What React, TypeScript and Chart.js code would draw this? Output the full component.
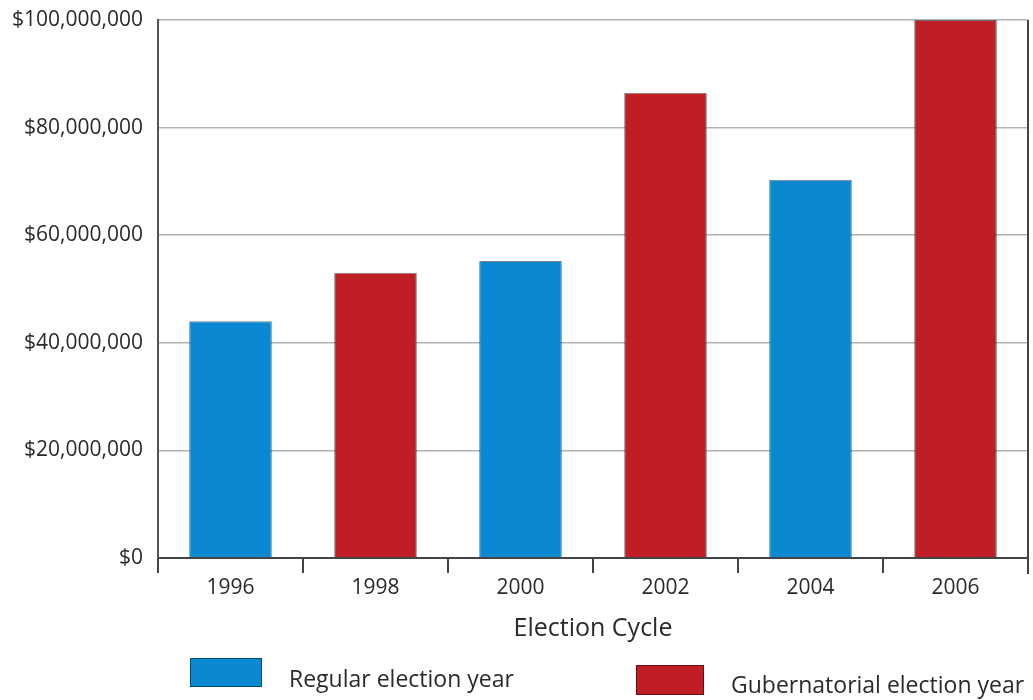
import React, { useEffect, useRef } from "react";
import { Chart, registerables } from "chart.js";

Chart.register(...registerables);

const categories = ["1996", "1998", "2000", "2002", "2004", "2006"];
const regularValues = [44000000, null, 55200000, null, 70300000, null];
const gubernatorialValues = [null, 53000000, null, 86500000, null, 100000000];
const yMin = 0;
const yMax = 100000000;
const yStep = 20000000;
const xTitle = "Election Cycle";
const regularLabel = "Regular election year";
const gubernatorialLabel = "Gubernatorial election year";

const BLUE = "#0a89d2";
const RED = "#bf1e25";
const FONT = "'Open Sans', 'DejaVu Sans', sans-serif";
const TEXT = "#2a2a2a";

const legendPlugin = {
  id: "customLegend",
  afterDraw(chart: any) {
    const ctx = chart.ctx;
    const slots = [
      { bx: 190, by: 658, bw: 72, bh: 29, tx: 289, ty: 680 },
      { bx: 636, by: 665, bw: 68, bh: 30, tx: 731, ty: 686 },
    ];
    ctx.save();
    const a = chart.chartArea;
    ctx.strokeStyle = "#444";
    ctx.lineWidth = 2;
    ctx.beginPath();
    ctx.moveTo(a.right, a.top);
    ctx.lineTo(a.right, a.bottom + 16);
    ctx.stroke();

    chart.data.datasets.forEach((ds: any, i: number) => {
      const s = slots[i];
      if (!s) return;
      ctx.fillStyle = ds.backgroundColor;
      ctx.fillRect(s.bx, s.by, s.bw, s.bh);
      ctx.strokeStyle = "rgba(0,0,0,0.45)";
      ctx.lineWidth = 1;
      ctx.strokeRect(s.bx + 0.5, s.by + 0.5, s.bw - 1, s.bh - 1);
      ctx.fillStyle = TEXT;
      ctx.font = `23px ${FONT}`;
      ctx.textAlign = "left";
      ctx.textBaseline = "middle";
      ctx.fillText(ds.label, s.tx, s.ty);
    });
    ctx.restore();
  },
};

export default function App() {
  const ref = useRef<HTMLCanvasElement | null>(null);

  useEffect(() => {
    if (!ref.current) return;
    const chart = new Chart(ref.current, {
      type: "bar",
      data: {
        labels: categories,
        datasets: [
          {
            label: regularLabel,
            data: regularValues as any,
            backgroundColor: BLUE,
            borderColor: "rgba(0,0,0,0.5)",
            borderWidth: 1,
            grouped: false,
            barPercentage: 0.57,
            categoryPercentage: 1,
          },
          {
            label: gubernatorialLabel,
            data: gubernatorialValues as any,
            backgroundColor: RED,
            borderColor: "rgba(0,0,0,0.5)",
            borderWidth: 1,
            grouped: false,
            barPercentage: 0.57,
            categoryPercentage: 1,
          },
        ],
      },
      options: {
        responsive: false,
        animation: false,
        devicePixelRatio: 1,
        layout: { padding: { left: 0, top: 20, right: 5, bottom: 56 } },
        plugins: {
          legend: { display: false },
          tooltip: { enabled: false },
        },
        scales: {
          x: {
            offset: true,
            grid: {
              offset: true,
              drawOnChartArea: false,
              drawTicks: true,
              tickLength: 15,
              color: "#444",
              lineWidth: 2,
            },
            border: { display: true, color: "#444", width: 2 },
            ticks: {
              color: TEXT,
              padding: 2,
              font: { family: FONT, size: 21 },
            },
            title: {
              display: true,
              text: xTitle,
              color: TEXT,
              font: { family: FONT, size: 25 },
              padding: { top: 0, bottom: 0 },
            },
            afterFit(scale: any) {
              scale.height = 86;
              scale.paddingLeft = 0;
              scale.paddingRight = 0;
            },
          },
          y: {
            min: yMin,
            max: yMax,
            z: 1,
            grid: {
              color: "rgba(0,0,0,0.3)",
              lineWidth: 1.5,
              drawTicks: false,
            },
            border: { display: true, color: "#555", width: 2 },
            ticks: {
              stepSize: yStep,
              color: TEXT,
              padding: 15,
              font: { family: FONT, size: 21 },
              callback: (v: any) => "$" + Number(v).toLocaleString("en-US"),
            },
            afterFit(scale: any) {
              scale.width = 158;
              scale.paddingTop = 0;
              scale.paddingBottom = 0;
            },
          },
        },
      },
      plugins: [legendPlugin],
    });
    return () => chart.destroy();
  }, []);

  return (
    <div style={{ position: "fixed", left: 0, top: 0, width: 1033, height: 700, background: "#fff" }}>
      <canvas ref={ref} width={1033} height={700} style={{ width: 1033, height: 700, display: "block" }} />
    </div>
  );
}
